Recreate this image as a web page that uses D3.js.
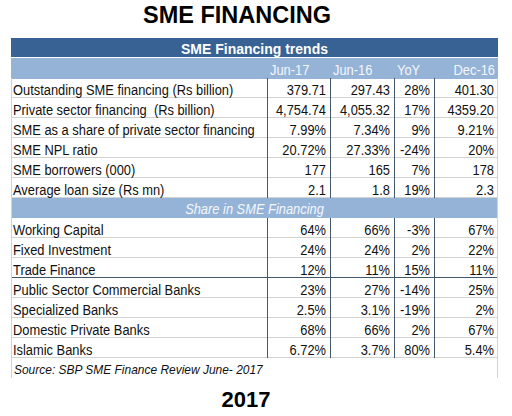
<!DOCTYPE html>
<html>
<head>
<meta charset="UTF-8">
<script src="https://cdn.jsdelivr.net/npm/d3@7"></script>
<style>
body{
    margin:0;
    background-color:#fff;
    font-family: "Liberation Sans", Arial, sans-serif;
}
text{
    white-space: pre;
}
</style>
</head>
<body>
<script>

var columns = ["Jun-17", "Jun-16", "YoY", "Dec-16"];

var trendLabels = ["Outstanding SME financing (Rs billion)", "Private sector financing  (Rs billion)", "SME as a share of private sector financing", "SME NPL ratio", "SME borrowers (000)", "Average loan size (Rs mn)"];
var trendJun17 = ["379.71", "4,754.74", "7.99%", "20.72%", "177", "2.1"];
var trendJun16 = ["297.43", "4,055.32", "7.34%", "27.33%", "165", "1.8"];
var trendYoY   = ["28%", "17%", "9%", "-24%", "7%", "19%"];
var trendDec16 = ["401.30", "4359.20", "9.21%", "20%", "178", "2.3"];

var shareLabels = ["Working Capital", "Fixed Investment", "Trade Finance", "Public Sector Commercial Banks", "Specialized Banks", "Domestic Private Banks", "Islamic Banks"];
var shareJun17 = ["64%", "24%", "12%", "23%", "2.5%", "68%", "6.72%"];
var shareJun16 = ["66%", "24%", "11%", "27%", "3.1%", "66%", "3.7%"];
var shareYoY   = ["-3%", "2%", "15%", "-14%", "-19%", "2%", "80%"];
var shareDec16 = ["67%", "22%", "11%", "25%", "2%", "67%", "5.4%"];

var width = 512, height = 416;
var tLeft = 11, tRight = 498, tTop = 38, tBottom = 378;
var darkBlue = "#386293", lightBlue = "#95b3d7", gridGray = "#d2d2d2", divider = "#43586c";
var sx = 0.92; // the source text is a bit narrow

var rows = [{type:"title"}, {type:"head"}];
trendLabels.forEach(function(d, i){
    rows.push({type:"data", label:d, vals:[trendJun17[i], trendJun16[i], trendYoY[i], trendDec16[i]]});
});
rows.push({type:"share"});
shareLabels.forEach(function(d, i){
    rows.push({type:"data", label:d, vals:[shareJun17[i], shareJun16[i], shareYoY[i], shareDec16[i]], split: i == 3});
});
rows.push({type:"source"});

var y = d3.scaleBand().domain(d3.range(rows.length)).range([tTop, tBottom]);
// left / right edge of each value column
var colLeft = d3.scaleOrdinal().domain(columns).range([267, 330, 394, 434]);
var colRight = d3.scaleOrdinal().domain(columns).range([330, 394, 434, tRight]);

var svg = d3.select("body").append("svg")
    .attr("width", width)
    .attr("height", height);

svg.append("text")
    .attr("x", 237)
    .attr("y", 23)
    .attr("text-anchor", "middle")
    .attr("font-size", 23.5)
    .attr("font-weight", "bold")
    .text("SME FINANCING");

svg.append("text")
    .attr("x", 246)
    .attr("y", 407)
    .attr("text-anchor", "middle")
    .attr("font-size", 22)
    .attr("font-weight", "bold")
    .text("2017");

// band backgrounds
svg.selectAll(".band")
    .data(rows.map(function(d, i){ return {r:d, i:i}; }).filter(function(d){ return d.r.type != "data" && d.r.type != "source"; }))
    .enter().append("rect")
    .attr("x", tLeft)
    .attr("y", function(d){ return y(d.i); })
    .attr("width", tRight - tLeft)
    .attr("height", function(d){ return d.r.type == "title" ? y.bandwidth() - 1 : y.bandwidth() + (d.r.type == "head" ? 1 : 0); })
    .attr("fill", function(d){ return d.r.type == "title" ? darkBlue : lightBlue; });

// horizontal grid lines under data rows
rows.forEach(function(r, i){
    if (r.type != "data") return;
    svg.append("line")
        .attr("x1", tLeft).attr("x2", tRight)
        .attr("y1", y(i) + y.bandwidth() - 0.5).attr("y2", y(i) + y.bandwidth() - 0.5)
        .attr("stroke", gridGray);
    if (r.split) {
        svg.append("line")
            .attr("x1", tLeft).attr("x2", tRight)
            .attr("y1", y(i) - 0.5).attr("y2", y(i) - 0.5)
            .attr("stroke", divider);
    }
});

// outer border
svg.append("line").attr("x1", tLeft + 0.5).attr("x2", tLeft + 0.5).attr("y1", y(2)).attr("y2", tBottom).attr("stroke", gridGray);
svg.append("line").attr("x1", tRight - 0.5).attr("x2", tRight - 0.5).attr("y1", y(2)).attr("y2", tBottom).attr("stroke", "#c9d6e6");

// vertical column dividers, only across the data blocks
var shareStart = 2 + trendLabels.length;
[[2, shareStart], [shareStart + 1, shareStart + 1 + shareLabels.length]].forEach(function(b){
    columns.forEach(function(c){
        svg.append("line")
            .attr("x1", colLeft(c) + 0.5).attr("x2", colLeft(c) + 0.5)
            .attr("y1", y(b[0])).attr("y2", y(b[1]))
            .attr("stroke", divider);
    });
});

function txt(x, yy, s, anchor){
    return svg.append("text")
        .attr("transform", "translate(" + x + "," + yy + ") scale(" + sx + ",1)")
        .attr("text-anchor", anchor)
        .attr("font-size", 14)
        .text(s);
}

rows.forEach(function(r, i){
    var base = y(i) + 16.5;
    if (r.type == "title") {
        svg.append("text")
            .attr("x", (tLeft + tRight) / 2).attr("y", base - 1)
            .attr("text-anchor", "middle")
            .attr("font-size", 14)
            .attr("font-weight", "bold")
            .attr("fill", "white")
            .text("SME Financing trends");
    } else if (r.type == "head") {
        columns.forEach(function(c, j){
            if (j < 3) txt(colLeft(c) + 3, base, c, "start").attr("fill", "#f4f7fb");
            else txt(colRight(c) - 3, base, c, "end").attr("fill", "#f4f7fb");
        });
    } else if (r.type == "share") {
        txt((tLeft + tRight) / 2, base - 1, "Share in SME Financing", "middle")
            .attr("fill", "#f4f7fb").attr("font-style", "italic");
    } else if (r.type == "data") {
        txt(tLeft + 2, base, r.label, "start").attr("fill", "#111");
        columns.forEach(function(c, j){
            txt(colRight(c) - 4, base, r.vals[j], "end").attr("fill", "#111");
        });
    } else {
        txt(tLeft + 3, base - 1, "Source: SBP SME Finance Review June- 2017", "start")
            .attr("font-size", 13).attr("font-style", "italic").attr("fill", "#111");
    }
});

</script>
</body>
</html>
